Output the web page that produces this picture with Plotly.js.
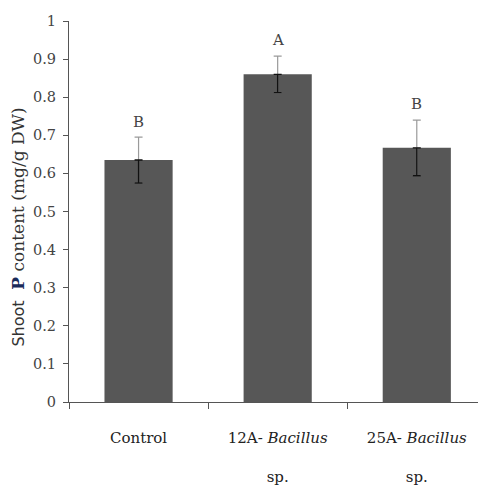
<!DOCTYPE html>
<html>
<head>
<meta charset="utf-8">
<script src="https://cdn.plot.ly/plotly-3.0.1.min.js"></script>
<style>html,body{margin:0;padding:0;background:#fff;}#chart{width:478px;height:491px;}</style>
</head>
<body>
<div id="chart"></div>
<script>
const categories = ["Control", "12A- Bacillus sp.", "25A- Bacillus sp."];
const tickLabels = ["Control", "12A- <i>Bacillus</i><br><br>sp.", "25A- <i>Bacillus</i><br><br>sp."];
const shootP = [0.635, 0.86, 0.667];
const errors = [0.06, 0.048, 0.073];
const letters = ["B", "A", "B"];

const serif = "DejaVu Serif, Liberation Serif, serif";

const barTrace = {
  type: "bar",
  x: categories,
  y: shootP,
  width: 0.49,
  marker: {color: "#575757", line: {width: 0}},
  error_y: {type: "data", array: errors, arrayminus: errors, visible: true,
            color: "#9a9a9a", thickness: 1.2, width: 4},
  hoverinfo: "none"
};
const lowerErr = {
  type: "scatter",
  mode: "markers",
  x: categories,
  y: shootP,
  marker: {size: 0.1, color: "rgba(0,0,0,0)"},
  error_y: {type: "data", array: errors.map(() => 0), arrayminus: errors, visible: true,
            color: "#111", thickness: 1.4, width: 4},
  hoverinfo: "none"
};

const annotations = categories.map((c, i) => ({
  x: c, y: shootP[i] + errors[i] + 0.012, xref: "x", yref: "y",
  text: letters[i], showarrow: false, yanchor: "bottom",
  font: {family: serif, size: 15, color: "#444"}
}));
annotations.push({
  xref: "paper", yref: "paper", x: -0.125, y: 0.46, xanchor: "center", yanchor: "middle",
  textangle: -90, showarrow: false,
  text: '<span style="font-family:DejaVu Sans;font-size:16px">Shoot</span>  <b><span style="color:#1a2a5a">P</span></b> content (mg/g DW)',
  font: {family: serif, size: 17, color: "#333"}
});

const layout = {
  width: 478, height: 491,
  margin: {l: 69, r: 0, t: 21, b: 89},
  paper_bgcolor: "#fff", plot_bgcolor: "#fff",
  showlegend: false,
  xaxis: {
    type: "category",
    range: [-0.5, 2.44],
    tickmode: "array", tickvals: categories, ticktext: tickLabels,
    tickson: "boundaries",
    ticks: "outside", ticklen: 6, tickcolor: "#555", tickwidth: 1,
    showline: true, linecolor: "#555", linewidth: 1,
    showgrid: false, zeroline: false,
    ticklabelstandoff: 22,
    tickfont: {family: serif, size: 15, color: "#222"},
    fixedrange: true
  },
  yaxis: {
    range: [0, 1], dtick: 0.1, tick0: 0,
    ticks: "outside", ticklen: 5, tickcolor: "#555", tickwidth: 1,
    showline: true, linecolor: "#555", linewidth: 1,
    showgrid: false, zeroline: false,
    ticklabelstandoff: 4,
    tickfont: {family: serif, size: 14.5, color: "#444"},
    fixedrange: true
  },
  annotations: annotations
};

Plotly.newPlot("chart", [barTrace, lowerErr], layout, {displayModeBar: false, staticPlot: true});
</script>
</body>
</html>
